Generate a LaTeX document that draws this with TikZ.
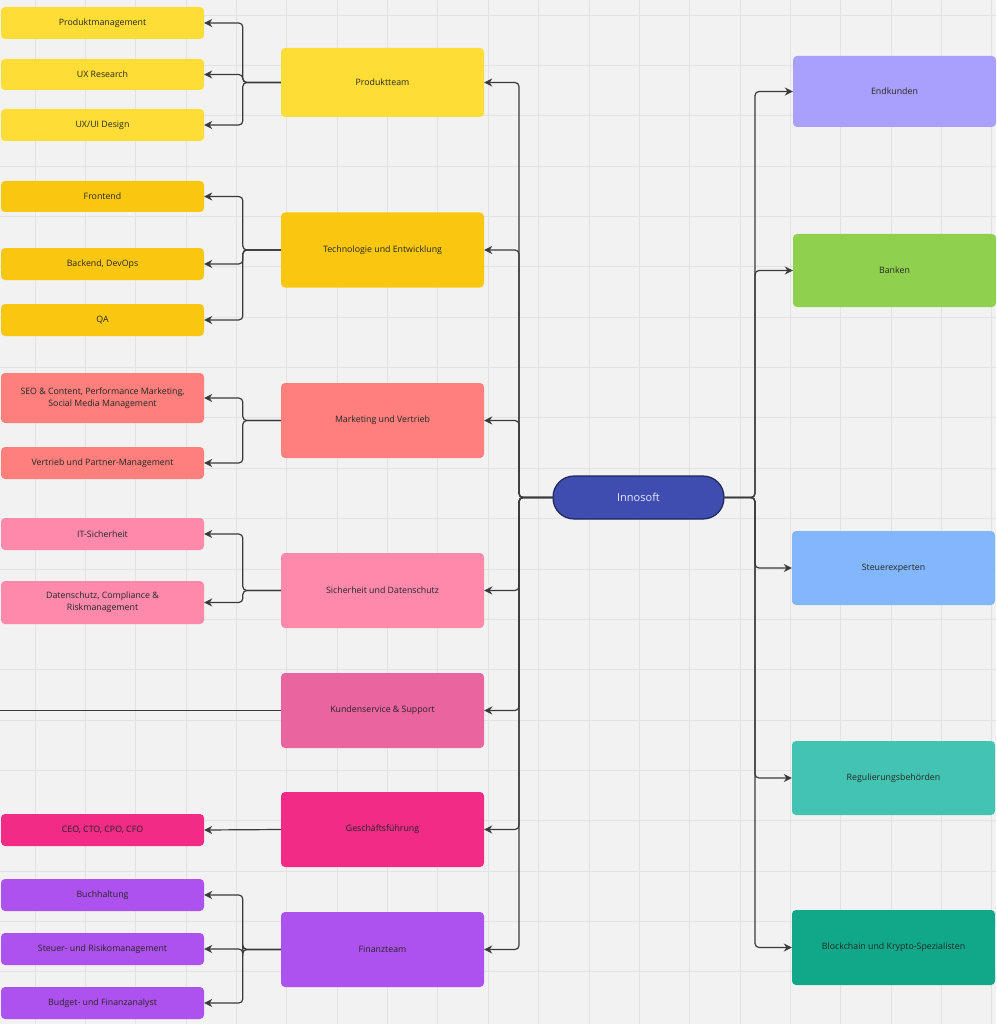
\documentclass[tikz,border=0pt]{standalone}
\usepackage{fontspec}
\setmainfont{Open Sans}
\usetikzlibrary{arrows.meta}
\definecolor{bg}{HTML}{F2F2F2}
\definecolor{gridc}{HTML}{E2E2E2}
\definecolor{linec}{HTML}{3A3A3A}
\definecolor{txt}{HTML}{262626}
\definecolor{cYel}{HTML}{FEDD37}
\definecolor{cYelD}{HTML}{FAC710}
\definecolor{cRed}{HTML}{FF7F7C}
\definecolor{cPink}{HTML}{FF89AA}
\definecolor{cMag}{HTML}{EA649F}
\definecolor{cHot}{HTML}{F12B86}
\definecolor{cVio}{HTML}{AD52EF}
\definecolor{cLav}{HTML}{A9A0FD}
\definecolor{cGrn}{HTML}{8FD14F}
\definecolor{cBlu}{HTML}{82B6FD}
\definecolor{cTeal}{HTML}{43C3B2}
\definecolor{cDTeal}{HTML}{10A888}
\definecolor{cInno}{HTML}{404DB0}
\definecolor{cInnoB}{HTML}{1E2658}
\tikzset{
  box/.style={rectangle, rounded corners=4pt, draw=none, text=txt, align=center,
    font=\fontsize{8.8}{12.2}\selectfont, inner sep=2pt},
  sub/.style={box, minimum width=203pt, minimum height=32pt},
  mid/.style={box, minimum width=203pt, minimum height=75pt},
  conn/.style={draw=linec, line width=1.2pt, rounded corners=4pt},
  arr/.style={conn, -{Stealth[length=8pt,width=8pt]}},
}
\begin{document}
\begin{tikzpicture}[x=1pt,y=-1pt]
\useasboundingbox (0,0) rectangle (996,1024);
\fill[bg] (0,0) rectangle (996,1024);
\foreach \k in {0,...,19} {
  \draw[gridc, line width=0.8pt] ({35+50.36*\k},0) -- ({35+50.36*\k},1024);
  \draw[gridc, line width=0.8pt] (0,{15+50.36*\k}) -- (996,{15+50.36*\k});
}
% central node
\node[rectangle, rounded corners=21pt, draw=cInnoB, line width=1.2pt, fill=cInno,
  minimum width=171pt, minimum height=43pt, text={rgb,255:red,232;green,234;blue,248},
  font=\fontsize{11}{13}\selectfont] (inno) at (638.5,497.5) {Innosoft};
% middle column
\node[mid, fill=cYel, minimum height=69pt] (pt) at (382.5,82.5) {Produktteam};
\node[mid, fill=cYelD] (te) at (382.5,250) {Technologie und Entwicklung};
\node[mid, fill=cRed] (mv) at (382.5,420.5) {Marketing und Vertrieb};
\node[mid, fill=cPink] (sd) at (382.5,590.5) {Sicherheit und Datenschutz};
\node[mid, fill=cMag] (ks) at (382.5,710.5) {Kundenservice \& Support};
\node[mid, fill=cHot] (gf) at (382.5,829.5) {Geschäftsführung};
\node[mid, fill=cVio] (ft) at (382.5,949.5) {Finanzteam};
% left column
\node[sub, fill=cYel] (pm) at (102.5,23) {Produktmanagement};
\node[sub, fill=cYel, minimum height=31pt] (uxr) at (102.5,74.5) {UX Research};
\node[sub, fill=cYel] (uxd) at (102.5,125) {UX/UI Design};
\node[sub, fill=cYelD, minimum height=31pt] (fe) at (102.5,196.5) {Frontend};
\node[sub, fill=cYelD] (be) at (102.5,264) {Backend, DevOps};
\node[sub, fill=cYelD] (qa) at (102.5,320) {QA};
\node[sub, fill=cRed, minimum height=50pt] (seo) at (102.5,398) {SEO \& Content, Performance Marketing,\\Social Media Management};
\node[sub, fill=cRed] (vp) at (102.5,463) {Vertrieb und Partner-Management};
\node[sub, fill=cPink] (its) at (102.5,534) {IT-Sicherheit};
\node[sub, fill=cPink, minimum height=43pt] (ds) at (102.5,602.5) {Datenschutz, Compliance \&\\Riskmanagement};
\node[sub, fill=cHot] (ceo) at (102.5,830) {CEO, CTO, CPO, CFO};
\node[sub, fill=cVio] (bh) at (102.5,895) {Buchhaltung};
\node[sub, fill=cVio] (sr) at (102.5,949) {Steuer- und Risikomanagement};
\node[sub, fill=cVio] (bf) at (102.5,1003) {Budget- und Finanzanalyst};
% right column
\node[mid, fill=cLav, minimum height=71pt] (ek) at (894.5,91.5) {Endkunden};
\node[mid, fill=cGrn, minimum height=73pt] (bk) at (894.5,270.5) {Banken};
\node[mid, fill=cBlu, minimum height=74pt] (se) at (893.5,568) {Steuerexperten};
\node[mid, fill=cTeal, minimum height=74pt] (rb) at (893.5,778) {Regulierungsbehörden};
\node[mid, fill=cDTeal] (bc) at (893.5,947.5) {Blockchain und Krypto-Spezialisten};
% bus coordinates
\coordinate (lb) at (519,497.5);
\coordinate (rbus) at (755,497.5);
\coordinate (ksend) at (0,710.5);
% connectors from Innosoft to the left
\foreach \t in {pt,te,mv,sd,ks,gf,ft} {
  \draw[arr] (inno.west) -- (lb) |- (\t.east);
}
% connectors from Innosoft to the right
\foreach \t in {ek,bk,se,rb,bc} {
  \draw[arr] (inno.east) -- (rbus) |- (\t.west);
}
% sub-branches
\foreach \p/\c in {pt/pm,pt/uxr,pt/uxd,te/fe,te/be,te/qa,mv/seo,mv/vp,sd/its,sd/ds,ft/bh,ft/sr,ft/bf} {
  \draw[arr] (\p.west) -- ++(-38,0) |- (\c.east);
}
\draw[arr] (gf.west) -- (ceo.east);
\draw[conn] (ks.west) -- (ksend);
\end{tikzpicture}
\end{document}
